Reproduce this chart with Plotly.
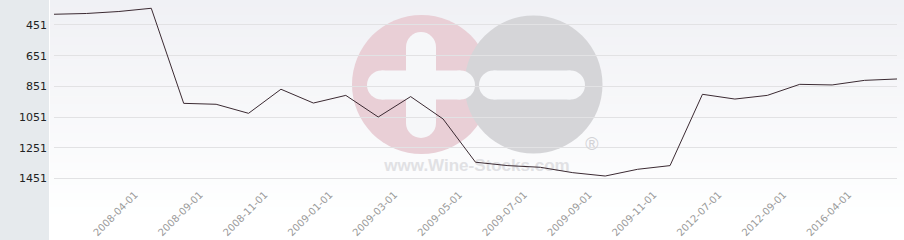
import plotly.graph_objects as go

# ---- data ----
prices = [381, 376, 363, 342, 962, 968, 1027, 870, 960, 910, 1051, 918, 1064,
          1346, 1368, 1379, 1414, 1436, 1392, 1368, 903, 934, 910, 838, 842, 812, 803]
tick_labels = ["2008-04-01", "2008-09-01", "2008-11-01", "2009-01-01", "2009-03-01",
               "2009-05-01", "2009-07-01", "2009-09-01", "2009-11-01", "2012-07-01",
               "2012-09-01", "2016-04-01"]
tick_after_index = [2, 4, 6, 8, 10, 12, 14, 16, 18, 20, 22, 24]
y_ticks = [451, 651, 851, 1051, 1251, 1451]

x_idx = list(range(len(prices)))

# ---- layout geometry (pixels) ----
W, H = 904, 240
L, R, T, B = 54, 7, 0, 54
PW, PH = W - L - R, H - T - B

def px(x):
    return (x - L) / PW

def py(y):
    return (T + PH - y) / PH

Y_TOP, Y_BOT = 288, 1501

def dx(x):
    return (x - L) / PW * (len(prices) - 1)

def dy(y):
    return Y_TOP + (y - T) / PH * (Y_BOT - Y_TOP)

shapes = []
# left grey panel
shapes.append(dict(type="rect", xref="paper", yref="paper", x0=px(0), x1=px(49),
                   y0=py(H), y1=py(0), fillcolor="#e6eaed", line_width=0, layer="below"))
# gradient background bands
top_c = (240, 241, 245)
bot_c = (255, 255, 255)
n = 30
g_top, g_bot = 0, 222
for i in range(n):
    t = i / (n - 1)
    c = tuple(round(top_c[k] + (bot_c[k] - top_c[k]) * t) for k in range(3))
    y0 = g_top + (g_bot - g_top) * i / n
    y1 = g_top + (g_bot - g_top) * (i + 1) / n
    shapes.append(dict(type="rect", xref="paper", yref="paper", x0=px(50), x1=px(W),
                       y0=py(y1 + 0.5), y1=py(y0), fillcolor="rgb(%d,%d,%d)" % c,
                       line_width=0, layer="below"))

def circle(cx, cy, r, color):
    return dict(type="circle", xref="paper", yref="paper", x0=px(cx - r), x1=px(cx + r),
                y0=py(cy + r), y1=py(cy - r), fillcolor=color, line_width=0, layer="below")

def rect(x0, x1, y0, y1, color):
    return dict(type="rect", xref="paper", yref="paper", x0=px(x0), x1=px(x1),
                y0=py(y1), y1=py(y0), fillcolor=color, line_width=0, layer="below")

def bar_h(cx, cy, half_len, half_w, color):
    return [rect(cx - half_len + half_w, cx + half_len - half_w, cy - half_w, cy + half_w, color),
            circle(cx - half_len + half_w, cy, half_w, color),
            circle(cx + half_len - half_w, cy, half_w, color)]

def bar_v(cx, cy, half_len, half_w, color):
    return [rect(cx - half_w, cx + half_w, cy - half_len + half_w, cy + half_len - half_w, color),
            circle(cx, cy - half_len + half_w, half_w, color),
            circle(cx, cy + half_len - half_w, half_w, color)]

pink = "#e9cfd6"
grey = "#d5d5d8"
white = "#f6f7f9"
shapes.append(circle(421.5, 84.5, 69.5, pink))
shapes.append(circle(533.5, 84.5, 69, grey))
shapes += bar_v(421, 85, 53, 15, white)
shapes += bar_h(421, 85, 54, 14.5, white)
shapes += bar_h(532, 85, 53, 14.5, white)

fig = go.Figure()

# watermark texts (under the line)
fig.add_trace(go.Scatter(x=[dx(477)], y=[dy(167)], mode="text", text=["<b>www.Wine-Stocks.com</b>"],
                         textfont=dict(family="Liberation Sans", size=17, color="#e1e1e4"),
                         hoverinfo="skip", showlegend=False))
fig.add_trace(go.Scatter(x=[dx(592)], y=[dy(145)], mode="text", text=["®"],
                         textfont=dict(family="Liberation Sans", size=18, color="#d2d2d6"),
                         hoverinfo="skip", showlegend=False))

fig.add_trace(go.Scatter(x=x_idx, y=prices, mode="lines",
                         line=dict(color="#3b2a32", width=1), showlegend=False))

fig.update_layout(
    width=W, height=H,
    margin=dict(l=L, r=R, t=T, b=B, pad=0),
    paper_bgcolor="white",
    plot_bgcolor="rgba(0,0,0,0)",
    shapes=shapes,
    xaxis=dict(range=[0, len(prices) - 1], showgrid=False, zeroline=False, showline=False,
               tickmode="array", tickvals=[i + 0.5 for i in tick_after_index],
               ticktext=tick_labels, tickangle=-45,
               tickfont=dict(family="DejaVu Sans", size=10, color="#9a9a9a"),
               ticks="", ticklen=0),
    yaxis=dict(range=[Y_BOT, Y_TOP], showgrid=True, gridcolor="#e2e2e4", gridwidth=1,
               zeroline=False, showline=False, tickmode="array", tickvals=y_ticks,
               ticktext=[str(v) for v in y_ticks],
               tickfont=dict(family="DejaVu Sans", size=11, color="#222222"),
               ticks="", ticklabelstandoff=6),
)

fig.write_html("out.html")
